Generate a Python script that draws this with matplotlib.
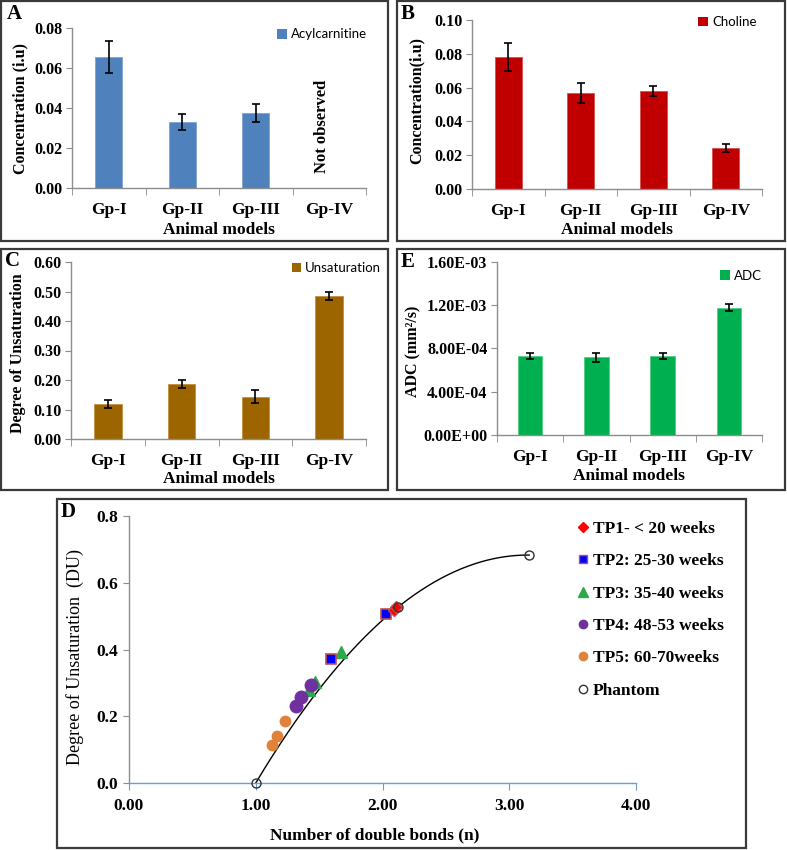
import numpy as np
import matplotlib
matplotlib.use("Agg")
import matplotlib.pyplot as plt
from matplotlib.patches import Rectangle
from matplotlib.lines import Line2D
from matplotlib.ticker import FuncFormatter, MultipleLocator

plt.rcParams['font.family'] = ['Liberation Serif', 'DejaVu Serif']
plt.rcParams['font.weight'] = 'bold'

# ---------------- data ----------------
categories = ['Gp-I', 'Gp-II', 'Gp-III', 'Gp-IV']

acyl_vals = [0.0654, 0.0328, 0.0373]          # Gp-IV not observed
acyl_err = [0.0080, 0.0040, 0.0045]

choline_vals = [0.0783, 0.0566, 0.0582, 0.0241]
choline_err = [0.0083, 0.0059, 0.0030, 0.0024]

unsat_vals = [0.118, 0.187, 0.144, 0.485]
unsat_err = [0.014, 0.014, 0.022, 0.013]

adc_vals = [7.29e-4, 7.20e-4, 7.29e-4, 1.177e-3]
adc_err = [2.8e-5, 4.3e-5, 2.8e-5, 3.0e-5]

# Panel D: number of double bonds (n) vs degree of unsaturation (DU)
tp1_n = [2.09, 2.11]
tp1_du = [0.518, 0.527]
tp2_n = [2.03, 1.59]
tp2_du = [0.507, 0.371]
tp3_n = [1.67, 1.465, 1.42]
tp3_du = [0.392, 0.302, 0.280]
tp4_n = [1.435, 1.36, 1.32]
tp4_du = [0.294, 0.257, 0.231]
tp5_n = [1.23, 1.17, 1.13]
tp5_du = [0.187, 0.141, 0.113]
phantom_n = [1.00, 2.125, 3.157]
phantom_du = [0.000, 0.528, 0.683]

tp_labels = ['TP1- < 20 weeks', 'TP2: 25-30 weeks', 'TP3: 35-40 weeks',
             'TP4: 48-53 weeks', 'TP5: 60-70weeks', 'Phantom']

W, H = 787, 850
fig = plt.figure(figsize=(W / 100, H / 100), dpi=100)


def ax_px(l, t, r, b):
    return fig.add_axes([l / W, 1 - b / H, (r - l) / W, (b - t) / H])


def fx(x):
    return x / W


def fy(y):
    return 1 - y / H


# panel borders
for (l, t, r, b) in [(1, 1, 388, 241), (397, 1, 785, 241), (1, 249, 388, 490),
                     (397, 249, 785, 490), (57, 499, 746, 848)]:
    fig.patches.append(Rectangle((fx(l), fy(b)), (r - l) / W, (b - t) / H,
                                 transform=fig.transFigure, fill=False,
                                 edgecolor='#3a3a3a', linewidth=1.6))

AX_GRAY = '#8c8c8c'


def style_bar_axes(ax, ymax, ystep, fmt):
    ax.set_xlim(-0.5, 3.5)
    ax.set_ylim(0, ymax)
    for s in ['top', 'right']:
        ax.spines[s].set_visible(False)
    for s in ['left', 'bottom']:
        ax.spines[s].set_color(AX_GRAY)
        ax.spines[s].set_linewidth(1.0)
    ax.yaxis.set_major_locator(MultipleLocator(ystep))
    ax.yaxis.set_major_formatter(FuncFormatter(fmt))
    ax.tick_params(axis='y', direction='out', length=4, color=AX_GRAY,
                   labelsize=11.5, pad=3)
    ax.set_xticks(range(4))
    ax.set_xticklabels(categories)
    ax.tick_params(axis='x', length=0, labelsize=12.5, pad=10)
    ax.set_xticks([-0.5, 0.5, 1.5, 2.5, 3.5], minor=True)
    ax.tick_params(axis='x', which='minor', direction='out', length=5,
                   color=AX_GRAY)
    for lab in ax.get_xticklabels() + ax.get_yticklabels():
        lab.set_fontweight('bold')


def bar_legend(ax, color, label, anchor):
    h = [Rectangle((0, 0), 1, 1, facecolor=color, edgecolor='none')]
    ax.legend(h, [label], loc='upper right', bbox_to_anchor=anchor,
              frameon=False, handlelength=0.75, handleheight=0.75,
              handletextpad=0.3, borderaxespad=0,
              prop={'family': 'Lato', 'size': 9.5, 'weight': 'normal'})


bw = 0.37
ekw = dict(ecolor='black', elinewidth=1.2, capsize=3, capthick=1.2)

# ---------- A ----------
axA = ax_px(72, 28, 366, 188)
axA.bar(range(len(acyl_vals)), acyl_vals, bw, yerr=acyl_err, color='#4F81BD',
        edgecolor='#7fa3d4', linewidth=0.6, error_kw=ekw, label='Acylcarnitine')
style_bar_axes(axA, 0.08, 0.02, lambda v, p: f"{v:.2f}")
axA.text(2.9, 0.031, 'Not observed', rotation=90, ha='center', va='center',
         fontsize=12, fontweight='bold')
bar_legend(axA, '#4F81BD', 'Acylcarnitine', (1.02, 1.03))

# ---------- B ----------
axB = ax_px(472, 20, 762, 189)
axB.bar(range(4), choline_vals, bw, yerr=choline_err, color='#C00000',
        edgecolor='#d65050', linewidth=0.6, error_kw=ekw)
style_bar_axes(axB, 0.10, 0.02, lambda v, p: f"{v:.2f}")
bar_legend(axB, '#C00000', 'Choline', (1.0, 1.055))

# ---------- C ----------
axC = ax_px(71, 262, 366, 439)
axC.bar(range(4), unsat_vals, bw, yerr=unsat_err, color='#9C6500',
        edgecolor='#c09040', linewidth=0.6, error_kw=ekw)
style_bar_axes(axC, 0.60, 0.10, lambda v, p: f"{v:.2f}")
bar_legend(axC, '#9C6500', 'Unsaturation', (1.07, 1.03))

# ---------- E ----------
axE = ax_px(497, 262, 762, 435)
axE.bar(range(4), adc_vals, bw, yerr=adc_err, color='#00B050',
        edgecolor='#50d080', linewidth=0.6, error_kw=ekw)
style_bar_axes(axE, 1.6e-3, 4e-4,
               lambda v, p: f"{v:.2E}".replace('E', 'E ').replace(' -', '-').replace(' +', '+'))
bar_legend(axE, '#00B050', 'ADC', (1.02, 0.985))

# axis labels for bar panels
lab_kw = dict(fontsize=12.5, fontweight='bold', ha='center', va='center')
fig.text(fx(219), fy(230), 'Animal models', **lab_kw)
fig.text(fx(617), fy(230), 'Animal models', **lab_kw)
fig.text(fx(219), fy(479), 'Animal models', **lab_kw)
fig.text(fx(629), fy(476), 'Animal models', **lab_kw)
ylab_kw = dict(fontsize=11.5, fontweight='bold', ha='center', va='center',
               rotation=90)
fig.text(fx(20), fy(109), 'Concentration (i.u)', **ylab_kw)
fig.text(fx(417), fy(100), 'Concentration(i.u)', **ylab_kw)
fig.text(fx(18), fy(353), 'Degree of Unsaturation', **ylab_kw)
fig.text(fx(413), fy(351), 'ADC (mm²/s)', **ylab_kw)

# panel letters
let_kw = dict(fontsize=15, fontweight='bold', ha='left', va='top')
fig.text(fx(7), fy(4), 'A', **let_kw)
fig.text(fx(401), fy(4), 'B', **let_kw)
fig.text(fx(5), fy(251), 'C', **let_kw)
fig.text(fx(401), fy(252), 'E', **let_kw)
fig.text(fx(61), fy(502), 'D', **let_kw)

# ---------- D ----------
axD = ax_px(129, 516, 636, 783)
axD.set_xlim(0, 4)
axD.set_ylim(0, 0.8)
for s in ['top', 'right']:
    axD.spines[s].set_visible(False)
axD.spines['left'].set_color(AX_GRAY)
axD.spines['bottom'].set_color('#6f9bd0')
axD.spines['left'].set_linewidth(1.0)
axD.spines['bottom'].set_linewidth(1.0)
axD.xaxis.set_major_locator(MultipleLocator(1))
axD.yaxis.set_major_locator(MultipleLocator(0.2))
axD.xaxis.set_major_formatter(FuncFormatter(lambda v, p: f"{v:.2f}"))
axD.yaxis.set_major_formatter(FuncFormatter(lambda v, p: f"{v:.1f}"))
axD.tick_params(axis='x', direction='out', length=5, color='#6f9bd0',
                labelsize=12.5, pad=6)
axD.tick_params(axis='y', direction='out', length=4, color=AX_GRAY,
                labelsize=12.5, pad=4)
for lab in axD.get_xticklabels() + axD.get_yticklabels():
    lab.set_fontweight('bold')

# trend line through phantom points
coef = np.polyfit(phantom_n, phantom_du, 2)
xx = np.linspace(min(phantom_n), max(phantom_n), 200)
axD.plot(xx, np.polyval(coef, xx), color='black', lw=1.0, zorder=2)

axD.plot(tp5_n, tp5_du, 'o', ms=7.5, color='#E0823A', mec='#E0823A', zorder=3, clip_on=False)
axD.plot(tp4_n, tp4_du, 'o', ms=9, color='#7030A0', mec='#7030A0', zorder=3, clip_on=False)
axD.plot(tp3_n, tp3_du, '^', ms=8.5, color='#2EA84A', mec='#2EA84A', zorder=2.5, clip_on=False)
axD.plot(tp2_n, tp2_du, 's', ms=7.5, color='#0000FF', mec='#C0504D', mew=1.2, zorder=4, clip_on=False)
axD.plot(tp1_n, tp1_du, 'D', ms=6.5, color='#FF0000', mec='#C0504D', zorder=4, clip_on=False)
axD.plot(phantom_n, phantom_du, 'o', ms=6.5, mfc='none', mec='#333333', mew=1.0, zorder=5, clip_on=False)

handles = [
    Line2D([], [], ls='none', marker='D', ms=5, color='#FF0000', mec='#FF0000'),
    Line2D([], [], ls='none', marker='s', ms=6, color='#0000FF', mec='#C0504D', mew=1.0),
    Line2D([], [], ls='none', marker='^', ms=6.5, color='#2EA84A', mec='#2EA84A'),
    Line2D([], [], ls='none', marker='o', ms=6, color='#7030A0', mec='#7030A0'),
    Line2D([], [], ls='none', marker='o', ms=6, color='#E0823A', mec='#E0823A'),
    Line2D([], [], ls='none', marker='o', ms=6, mfc='none', mec='#333333', mew=1.0),
]
fig.legend(handles, tp_labels, loc='upper left',
           bbox_to_anchor=(fx(579), fy(521)), frameon=False,
           handlelength=0.5, handletextpad=0.3, labelspacing=0.93,
           borderaxespad=0, borderpad=0,
           prop={'size': 12.5, 'weight': 'bold'})

fig.text(fx(375), fy(835), 'Number of double bonds (n)', fontsize=12.5,
         fontweight='bold', ha='center', va='center')
fig.text(fx(75), fy(657), 'Degree of Unsaturation  (DU)', fontsize=13,
         fontweight='normal', ha='center', va='center', rotation=90)

fig.savefig('out.png', dpi=100)
